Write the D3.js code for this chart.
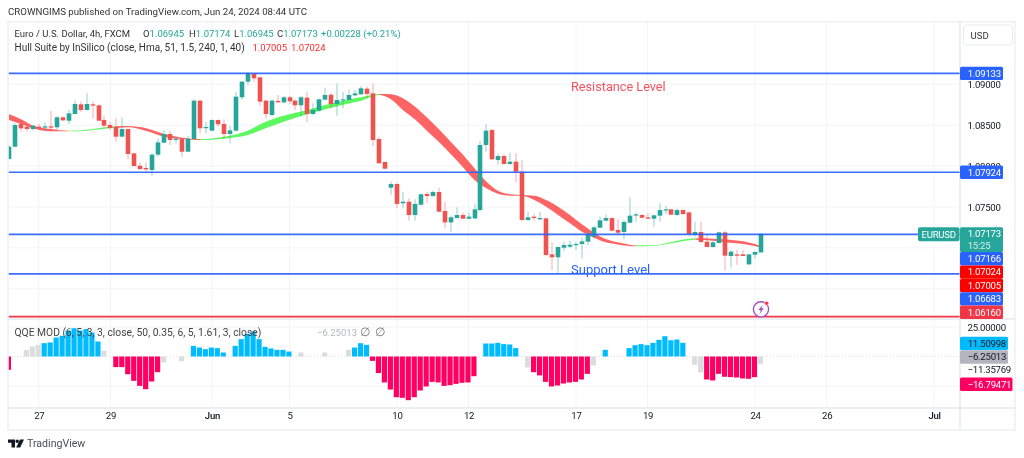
<!DOCTYPE html>
<html><head><meta charset="utf-8">
<script src="https://cdnjs.cloudflare.com/ajax/libs/d3/7.8.5/d3.min.js"></script>
<style>html,body{margin:0;padding:0;background:#fff}svg{display:block;filter:blur(.3px)}text{font-family:Roboto,sans-serif}.tick text,.tt{letter-spacing:-.25px}</style>
</head><body><div id="c"></div>
<script>
const candleOpen=[1.08087,1.08237,1.08515,1.08482,1.08453,1.08482,1.08470,1.08486,1.08474,1.08596,1.08555,1.08637,1.08755,1.08686,1.08755,1.08743,1.08563,1.08502,1.08482,1.08360,1.08453,1.08156,1.08005,1.07977,1.07952,1.08140,1.08286,1.08392,1.08327,1.08335,1.08176,1.08331,1.08800,1.08470,1.08433,1.08563,1.08515,1.08392,1.08433,1.08841,1.09032,1.09126,1.09085,1.08800,1.08625,1.08796,1.08779,1.08841,1.08800,1.08743,1.08837,1.08637,1.08678,1.08812,1.08873,1.08759,1.08808,1.08808,1.08865,1.08877,1.08947,1.08889,1.08331,1.08050,1.07736,1.07781,1.07545,1.07565,1.07402,1.07528,1.07659,1.07634,1.07683,1.07451,1.07312,1.07365,1.07402,1.07357,1.07361,1.07463,1.08258,1.08441,1.08075,1.08123,1.08026,1.08054,1.07932,1.07341,1.07382,1.07349,1.07361,1.06921,1.06885,1.07003,1.07015,1.07035,1.07048,1.07076,1.07137,1.07247,1.07333,1.07365,1.07219,1.07194,1.07308,1.07402,1.07402,1.07373,1.07357,1.07394,1.07459,1.07471,1.07402,1.07463,1.07434,1.07161,1.07194,1.07076,1.07011,1.07060,1.07190,1.06901,1.06921,1.06921,1.06799,1.06917,1.06945];
const candleClose=[1.08237,1.08502,1.08462,1.08453,1.08494,1.08466,1.08486,1.08470,1.08596,1.08559,1.08645,1.08759,1.08686,1.08759,1.08739,1.08555,1.08494,1.08466,1.08360,1.08453,1.08148,1.08001,1.07964,1.07960,1.08140,1.08290,1.08392,1.08319,1.08335,1.08176,1.08335,1.08800,1.08462,1.08478,1.08563,1.08511,1.08392,1.08437,1.08849,1.09032,1.09134,1.09073,1.08788,1.08637,1.08800,1.08779,1.08841,1.08792,1.08743,1.08841,1.08637,1.08686,1.08816,1.08869,1.08759,1.08808,1.08816,1.08869,1.08889,1.08951,1.08881,1.08319,1.08034,1.07968,1.07781,1.07537,1.07565,1.07402,1.07537,1.07655,1.07634,1.07683,1.07443,1.07312,1.07374,1.07402,1.07357,1.07382,1.07471,1.08258,1.08433,1.08083,1.08123,1.08026,1.08054,1.07932,1.07341,1.07374,1.07365,1.07365,1.06913,1.06885,1.07011,1.07035,1.07039,1.07048,1.07080,1.07158,1.07251,1.07337,1.07365,1.07211,1.07186,1.07317,1.07394,1.07410,1.07369,1.07357,1.07398,1.07463,1.07471,1.07406,1.07463,1.07414,1.07170,1.07194,1.07072,1.07011,1.07068,1.07190,1.06905,1.06954,1.06905,1.06901,1.06921,1.06950,1.07173];
const candleHigh=[1.08258,1.08523,1.08563,1.08502,1.08502,1.08515,1.08535,1.08674,1.08612,1.08604,1.08686,1.08800,1.08788,1.08889,1.08788,1.08751,1.08612,1.08539,1.08584,1.08592,1.08453,1.08156,1.08042,1.08046,1.08156,1.08335,1.08441,1.08429,1.08360,1.08348,1.08368,1.08816,1.08808,1.08543,1.08572,1.08572,1.08572,1.08494,1.08902,1.09040,1.09150,1.09134,1.09093,1.08808,1.08816,1.08869,1.08857,1.08857,1.08816,1.08857,1.08906,1.08767,1.08828,1.08959,1.08889,1.09012,1.08906,1.08938,1.08930,1.08979,1.08971,1.09012,1.08360,1.08054,1.07810,1.07797,1.07687,1.07606,1.07594,1.07667,1.07687,1.07700,1.07736,1.07565,1.07394,1.07496,1.07431,1.07431,1.07537,1.08307,1.08511,1.08453,1.08156,1.08144,1.08164,1.08156,1.08075,1.07443,1.07414,1.07443,1.07374,1.07068,1.07015,1.07076,1.07088,1.07076,1.07125,1.07198,1.07268,1.07382,1.07410,1.07370,1.07349,1.07341,1.07618,1.07431,1.07410,1.07422,1.07410,1.07544,1.07512,1.07475,1.07483,1.07471,1.07443,1.07320,1.07320,1.07170,1.07084,1.07198,1.07206,1.06974,1.06974,1.06974,1.06925,1.06958,1.07174];
const candleLow=[1.08083,1.08229,1.08421,1.08421,1.08433,1.08449,1.08433,1.08421,1.08441,1.08555,1.08515,1.08637,1.08661,1.08678,1.08580,1.08551,1.08474,1.08441,1.08299,1.08352,1.08083,1.07993,1.07952,1.07924,1.07883,1.08115,1.08278,1.08258,1.08278,1.08115,1.08172,1.08327,1.08400,1.08400,1.08429,1.08482,1.08331,1.08278,1.08429,1.08808,1.08991,1.09032,1.08735,1.08584,1.08612,1.08779,1.08771,1.08759,1.08686,1.08604,1.08535,1.08625,1.08665,1.08808,1.08706,1.08616,1.08706,1.08808,1.08857,1.08873,1.08828,1.08246,1.08034,1.07968,1.07647,1.07484,1.07484,1.07333,1.07333,1.07520,1.07545,1.07626,1.07435,1.07239,1.07198,1.07361,1.07349,1.07349,1.07353,1.07443,1.08176,1.08075,1.08017,1.08017,1.08013,1.07801,1.07333,1.07333,1.07333,1.07341,1.06905,1.06730,1.06689,1.06966,1.06995,1.06974,1.06872,1.07031,1.07117,1.07243,1.07321,1.07202,1.07170,1.07105,1.07300,1.07321,1.07357,1.07353,1.07259,1.07320,1.07414,1.07402,1.07394,1.07402,1.07149,1.07137,1.07064,1.07007,1.07003,1.07056,1.06721,1.06762,1.06791,1.06901,1.06791,1.06872,1.06945];

const hullIndex=[0,2,4,7,10,13,17,20,23,26,29,32,36,40,43,46,50,53,56,59,62,64,66,68,70,72,74,76,78,80,82,84,86,88,90,92,94,96,98,100,102,104,105,108,111,115,118,120,123,126];
const hullUpper=[1.08633,1.08572,1.08494,1.08453,1.08433,1.08445,1.08482,1.08490,1.08462,1.08392,1.08348,1.08331,1.08360,1.08433,1.08543,1.08616,1.08686,1.08747,1.08800,1.08841,1.08881,1.08877,1.08828,1.08727,1.08596,1.08453,1.08299,1.08144,1.07973,1.07810,1.07695,1.07655,1.07647,1.07638,1.07586,1.07504,1.07402,1.07288,1.07186,1.07109,1.07068,1.07039,1.07031,1.07031,1.07072,1.07117,1.07113,1.07104,1.07080,1.07024];
const hullLower=[1.08563,1.08515,1.08462,1.08425,1.08425,1.08433,1.08462,1.08474,1.08429,1.08360,1.08331,1.08319,1.08335,1.08380,1.08462,1.08543,1.08633,1.08694,1.08751,1.08800,1.08869,1.08816,1.08686,1.08572,1.08433,1.08299,1.08148,1.07993,1.07830,1.07728,1.07659,1.07638,1.07638,1.07586,1.07504,1.07402,1.07300,1.07198,1.07125,1.07068,1.07043,1.07023,1.07019,1.07023,1.07056,1.07100,1.07088,1.07068,1.07047,1.07005];
const hullTurnIndex=[0,10,18,32,62,105,115,126];
const hullTurnTrend=["down","up","down","up","down","up","down"];

const qqeValues=[-11.3,null,null,5.65,8.5,9.9,11.3,11.9,16.1,17.5,22,24,22,23.2,20.3,12.7,4.8,null,-9,-9,-15,-20.6,-24.9,-27.7,-21.2,-13.3,-5.1,null,null,-4,null,9,7.6,6.2,7.6,7.1,3.4,null,9,14.7,19.2,21.2,14.7,8.2,6.8,5.65,5.65,4.2,null,3.4,null,null,null,3.4,null,null,null,5.65,7.6,11.3,9.9,-3.7,-14,-22,-28,-34.5,-35,-37,-34.5,-28.8,-25.4,-21.5,-22,-24.9,-24.3,-23.2,-22.3,-22,-16.7,null,11,11,11.6,10.5,10.2,7.1,null,-9.3,-13.3,-16,-21.5,-25.4,-24.6,-22.9,-22,-21.5,-19.5,-14.7,-7.6,null,5.65,null,null,null,7.1,9.6,10.5,9.6,11.6,14.1,17.2,13.8,14.4,11.6,null,-7,-13.6,-19.5,-20.3,-14.7,-17.2,-17.5,-17.8,-18.6,-18.9,-17.5,-6.25];
const qqeGrayIndex=[3,4,5,16,26,29,49,53,57,87,98,115,116,126];

const timeTickIndex=[5,17,34,47,65,77,95,107,125,137,155];
const timeTickLabels=["27","29","Jun","5","10","12","17","19","24","26","Jul"];
const priceTicks=[1.09,1.085,1.08,1.075];
const priceGrid=[1.09,1.085,1.08,1.075,1.07,1.065];
const qqeGrid=[25,-25];
const blueLevels=[1.09133,1.07924,1.07166,1.06683];
const redLevel=1.0616;
const title="CROWNGIMS published on TradingView.com, Jun 24, 2024 08:44 UTC";

const W=1024,H=458,L=8,R=960,T=21.7,PB=319,IB=408,B=430;
const x=d3.scaleLinear().domain([0,126]).range([9,761]);
const y=d3.scaleLinear().domain([1.09765,1.06131]).range([T,PB]);
const q=d3.scaleLinear().domain([25,-25]).range([327,386]);
const GREEN="#26a69a",RED="#ef5350",BLUE="#2962ff";
const svg=d3.select("#c").append("svg").attr("width",W).attr("height",H);
const defs=svg.append("defs");
defs.append("clipPath").attr("id","plot").append("rect").attr("x",L).attr("y",T).attr("width",R-L).attr("height",IB-T);

const txt=(s,tx,ty,size,fill,anchor,weight)=>svg.append("text").attr("x",tx).attr("y",ty).attr("font-size",size).attr("fill",fill).attr("text-anchor",anchor||"start").attr("font-weight",weight||400).text(s);

// title
txt(title,8,15,9.7,"#333");

// grid
const grid=svg.append("g").attr("stroke","#f3f4f6").attr("stroke-width",1);
timeTickIndex.forEach(i=>grid.append("line").attr("x1",x(i)).attr("x2",x(i)).attr("y1",T).attr("y2",IB));
priceGrid.forEach(p=>grid.append("line").attr("x1",L).attr("x2",R).attr("y1",y(p)).attr("y2",y(p)));
qqeGrid.forEach(p=>grid.append("line").attr("x1",L).attr("x2",R).attr("y1",q(p)).attr("y2",q(p)));

const plot=svg.append("g").attr("clip-path","url(#plot)");

// hull band
const hullPts=hullIndex.map((d,i)=>({i:d,u:hullUpper[i],l:hullLower[i]}));
const band=d3.area().x(d=>x(d.i)).y0(d=>y(d.l)).y1(d=>y(d.u)).curve(d3.curveMonotoneX);
hullTurnTrend.forEach((t,k)=>{
  const id="hull"+k,a=hullTurnIndex[k],b=hullTurnIndex[k+1];
  defs.append("clipPath").attr("id",id).append("rect").attr("x",x(a)).attr("y",T).attr("width",x(b)-x(a)).attr("height",PB-T);
  plot.append("path").attr("d",band(hullPts)).attr("clip-path",`url(#${id})`).attr("fill",t==="up"?"#5df760":"#ff6464");
});

// zero line of QQE
plot.append("line").attr("x1",L).attr("x2",R).attr("y1",q(0)).attr("y2",q(0)).attr("stroke","#dfe1e6").attr("stroke-dasharray","1 2");

// candles
const cg=plot.append("g");
candleOpen.forEach((o,i)=>{
  const c=candleClose[i],col=c>=o?GREEN:RED,px=Math.round(x(i));
  cg.append("line").attr("x1",px).attr("x2",px).attr("y1",y(candleHigh[i])).attr("y2",y(candleLow[i])).attr("stroke",col).attr("stroke-opacity",.5).attr("stroke-width",1);
  cg.append("rect").attr("x",px-2.3).attr("width",4.6).attr("y",y(Math.max(o,c))).attr("height",Math.max(1.2,Math.abs(y(o)-y(c)))).attr("fill",col);
});

// QQE
const grayset=new Set(qqeGrayIndex);
qqeValues.forEach((v,i)=>{
  if(v===null)return;
  plot.append("rect").attr("x",x(i)-3.2).attr("width",5.2)
    .attr("y",Math.min(q(0),q(v))).attr("height",Math.abs(q(v)-q(0)))
    .attr("fill",grayset.has(i)?"#dcdcde":(v>0?"#00bcff":"#ff0062"));
});

// levels
blueLevels.forEach(p=>plot.append("line").attr("x1",L).attr("x2",R).attr("y1",y(p)).attr("y2",y(p)).attr("stroke",BLUE).attr("stroke-width",1.6).attr("stroke-opacity",.92));
plot.append("line").attr("x1",L).attr("x2",R).attr("y1",y(redLevel)).attr("y2",y(redLevel)).attr("stroke","#f23645").attr("stroke-width",1.6);

txt("Resistance Level",571,91,12.7,"#f7525f");
txt("Support Level",571,274,13,BLUE);

// lightning icon
const ic=svg.append("g").attr("transform",`translate(${x(126)},309.3)`);
ic.append("circle").attr("r",7.6).attr("fill","#fff").attr("stroke","#a34cc4").attr("stroke-width",1.4);
ic.append("path").attr("d","M1.6,-4.6 L-2.6,0.8 L-0.3,0.8 L-1.4,4.6 L2.8,-1 L0.4,-1 Z").attr("fill","#a34cc4");
ic.append("circle").attr("cx",5.6).attr("cy",-6).attr("r",2.1).attr("fill","#f23645").attr("stroke","#fff").attr("stroke-width",.6);

// frame
const fr=svg.append("g").attr("fill","none");
fr.append("rect").attr("x",L).attr("y",T).attr("width",1015-L).attr("height",B-T).attr("stroke","#eff1f4").attr("stroke-width",1.6);
fr.append("line").attr("x1",L).attr("x2",1015).attr("y1",PB).attr("y2",PB).attr("stroke","#e6e8ec").attr("stroke-width",1.6);
fr.append("line").attr("x1",L).attr("x2",1015).attr("y1",IB).attr("y2",IB).attr("stroke","#e6e8ec").attr("stroke-width",1.6);
fr.append("line").attr("x1",R).attr("x2",R).attr("y1",T).attr("y2",B).attr("stroke","#dcdfe4").attr("stroke-width",1);

// legends
const leg=svg.append("text").attr("x",14.5).attr("y",37).attr("font-size",9.5).attr("fill","#333");
leg.append("tspan").text("Euro / U.S. Dollar, 4h, FXCM");
[["O","1.06945",143],["H","1.07174",189],["L","1.06945",234],["C","1.07173",277]].forEach(d=>{
  leg.append("tspan").attr("x",d[2]).text(d[0]);
  leg.append("tspan").attr("fill",GREEN).text(d[1]);
});
leg.append("tspan").attr("x",321).attr("fill",GREEN).text("+0.00228 (+0.21%)");
txt("Hull Suite by InSilico (close, Hma, 51, 1.5, 240, 1, 40)",14.5,51,10,"#333");
txt("1.07005",252.5,51,9.5,"#ff2b2b");
txt("1.07024",291,51,9.5,"#ff2b2b");
txt("QQE MOD (6, 5, 3, 3, close, 50, 0.35, 6, 5, 1.61, 3, close)",14.5,335.5,10.3,"#444");
txt("−6.25013",317,335.5,9.5,"#b2b5be");
txt("∅",360,336,12,"#777");
txt("∅",375,336,12,"#777");

// axes
const axF=9.6;
const ya=d3.axisRight(y).tickValues(priceTicks).tickFormat(d3.format(".5f")).tickSize(0).tickPadding(7.5);
const ga=svg.append("g").attr("transform",`translate(${R},0)`).call(ya);
ga.select(".domain").remove();
ga.selectAll("text").attr("font-size",axF).attr("font-family","Roboto").attr("fill","#131722");
const xa=d3.axisBottom(x).tickValues(timeTickIndex).tickFormat((d,i)=>timeTickLabels[i]).tickSize(0).tickPadding(4.5);
const gx=svg.append("g").attr("transform",`translate(0,${IB})`).call(xa);
gx.select(".domain").remove();
gx.selectAll("text").attr("font-size",axF).attr("font-family","Roboto").attr("fill","#131722").attr("font-weight",(d,i)=>/[A-Z]/.test(timeTickLabels[i])?500:400);
const qa=d3.axisRight(q).tickValues([25,-11.35769]).tickFormat(d=>d3.format(".5f")(d).replace("-","−")).tickSize(0).tickPadding(7.5);
const gq=svg.append("g").attr("transform",`translate(${R},0)`).call(qa);
gq.select(".domain").remove();
gq.selectAll("text").attr("font-size",axF).attr("font-family","Roboto").attr("fill","#131722");

// USD box
svg.append("rect").attr("x",963.5).attr("y",25).attr("width",49).attr("height",20).attr("rx",3).attr("fill","#fff").attr("stroke","#e9ebef");
txt("USD",970.5,38.5,9.6,"#333");

// price tags
const tag=(s,top,h,w,bg,fg,tx2)=>{
  svg.append("rect").attr("x",R).attr("y",top).attr("width",w).attr("height",h).attr("rx",1.5).attr("fill",bg);
  txt(s,967.7,top+10,axF,fg).attr("class","tt");
  if(tx2)txt(tx2,967.7,top+22,axF,"rgba(255,255,255,.8)").attr("class","tt");
};
tag("1.09133",y(1.09133)-6.7,13.4,43,BLUE,"#fff");
tag("1.07924",y(1.07924)-6.7,13.4,43,BLUE,"#fff");
svg.append("rect").attr("x",918).attr("y",227.3).attr("width",41.5).attr("height",14).attr("rx",2).attr("fill",GREEN);
txt("EURUSD",921.5,237.5,9.6,"#fff").attr("class","tt");
tag("1.07173",227.3,24.6,43,GREEN,"#fff","15:25");
const stack=[["1.07166",BLUE],["1.07024","#ff0000"],["1.07005","#ff0000"],["1.06683",BLUE],["1.06160","#f23645"]];
stack.forEach((d,i)=>tag(d[0],252+13.4*i,13.4,43,d[1],"#fff"));
tag("11.50998",336.7,13.4,48,"#00bcff","#131722");
tag("−6.25013",350.3,13.4,48,"#b2b5be","#131722");
tag("−16.79471",377.5,13.4,52.5,"#ff0062","#fff");

// TradingView logo
const lg=svg.append("g").attr("transform","translate(8,439.5)").attr("fill","#131722");
lg.append("path").attr("d","M0,0 H7 V8 H3.5 V3.2 H0 Z");
lg.append("circle").attr("cx",9.2).attr("cy",1.7).attr("r",1.7);
lg.append("path").attr("d","M12,0 H16 L12.2,8 H8.2 Z");
txt("TradingView",27,447,10.6,"#4a4d57");
</script>
</body></html>
